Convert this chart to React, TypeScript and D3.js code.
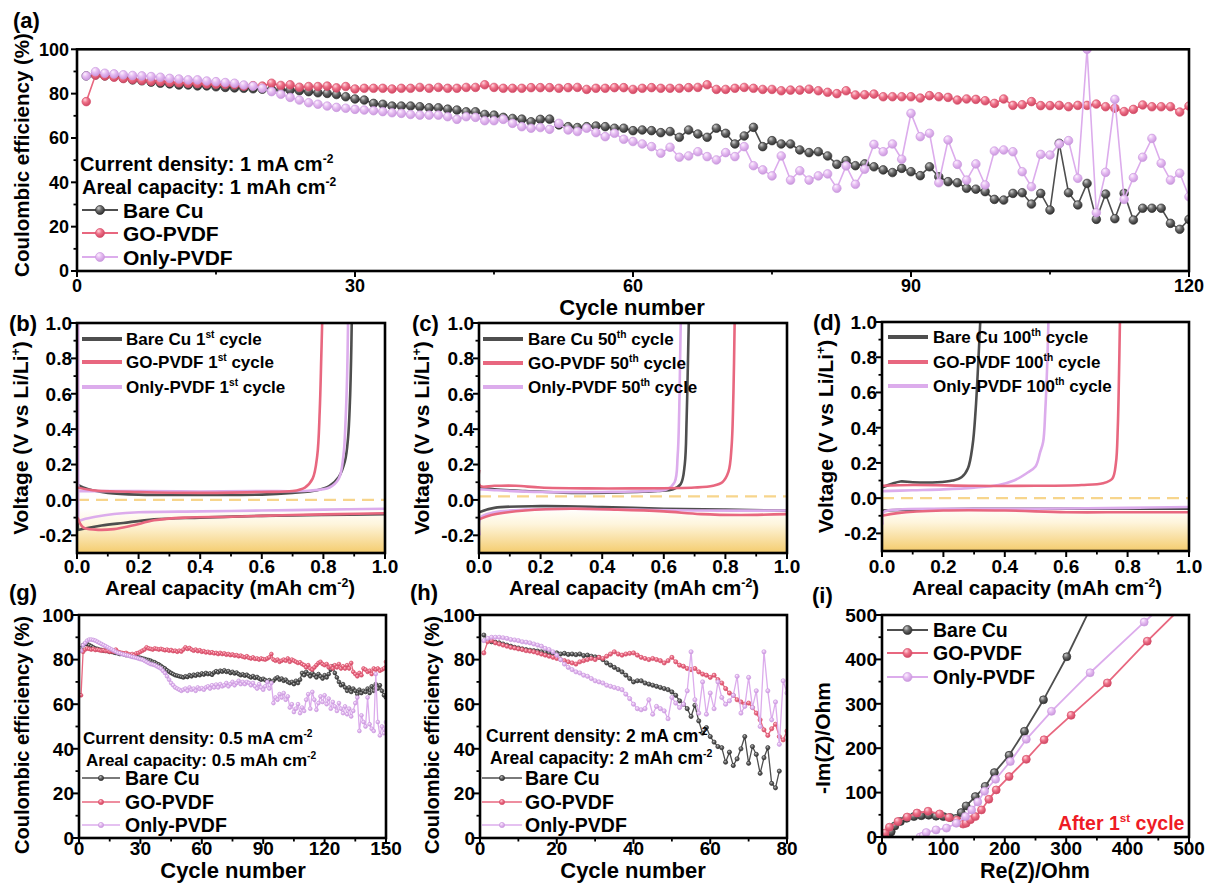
import React from 'react';
import * as d3 from 'd3';

const FONT = "'Liberation Sans', Arial, Helvetica, sans-serif";

// ---------------- shared series meta ----------------
const seriesNames = ['Bare Cu', 'GO-PVDF', 'Only-PVDF'];
const COLORS: any = { bare: '#4e4e4e', go: '#e8677f', only: '#dcacec' };
const MSTROKE: any = { bare: '#333333', go: '#d9506b', only: '#cc9bdf' };

// ---------------- panel (a): 1 mA cm-2, 1 mAh cm-2 ----------------
const ceA_BareCu = [88.0, 88.4, 88.0, 87.7, 87.0, 86.2, 85.8, 85.2, 84.7, 84.4,
  83.9, 83.9, 83.5, 83.5, 83.1, 82.8, 82.6, 82.4, 82.2, 82.0,
  81.8, 81.7, 81.6, 81.3, 80.9, 80.4, 80.1, 79.6, 78.6, 77.6,
  77.1, 75.6, 75.2, 74.4, 74.4, 74.4, 74.1, 73.6, 73.6, 73.0,
  72.6, 71.8, 71.8, 70.6, 70.3, 69.3, 68.8, 68.5, 67.3, 68.4,
  68.5, 65.9, 65.1, 64.7, 65.1, 65.4, 65.1, 64.4, 64.4, 63.3,
  63.6, 63.3, 62.4, 62.9, 60.3, 63.6, 61.8, 60.3, 64.4, 62.1,
  57.3, 60.9, 64.8, 56.1, 58.8, 57.3, 57.3, 54.6, 53.4, 53.8,
  51.9, 48.1, 49.8, 47.5, 48.3, 47.0, 45.6, 44.4, 46.3, 44.8,
  43.0, 47.0, 42.5, 40.3, 39.8, 37.3, 36.9, 35.8, 32.3, 32.0,
  35.0, 35.3, 30.2, 35.0, 27.5, 57.6, 35.3, 29.8, 39.5, 23.3,
  34.7, 23.6, 35.0, 23.0, 28.3, 28.3, 28.3, 21.5, 18.8, 23.3];
const ceA_GoPvdf = [76.4, 88.4, 88.0, 87.4, 86.8, 86.4, 86.0, 85.6, 85.4, 85.1,
  84.9, 84.7, 84.6, 84.4, 84.3, 84.2, 84.0, 83.4, 83.6, 83.4,
  84.7, 83.7, 84.0, 82.9, 83.2, 83.2, 83.4, 82.6, 83.2, 82.1,
  82.4, 82.4, 82.4, 82.1, 82.4, 82.4, 82.8, 82.4, 82.8, 82.4,
  82.4, 82.8, 82.8, 84.0, 82.8, 82.4, 82.4, 82.4, 82.7, 82.7,
  82.7, 82.4, 82.7, 82.8, 81.9, 82.4, 82.4, 82.7, 82.7, 81.9,
  82.4, 82.7, 82.4, 82.4, 82.4, 82.7, 82.8, 84.0, 81.9, 81.9,
  82.4, 82.8, 82.4, 81.9, 81.9, 81.3, 81.6, 81.6, 82.0, 81.3,
  80.6, 80.0, 81.3, 79.4, 79.5, 79.8, 78.6, 78.6, 78.6, 78.6,
  78.0, 79.1, 78.6, 78.3, 77.1, 77.6, 77.4, 76.8, 75.6, 77.6,
  74.7, 75.0, 76.4, 74.6, 74.6, 74.7, 74.1, 74.7, 74.7, 75.3,
  74.1, 73.4, 71.9, 72.9, 74.9, 74.1, 74.1, 74.1, 71.7, 74.4];
const ceA_OnlyPvdf = [88.0, 89.9, 89.2, 88.9, 88.5, 88.2, 88.0, 87.7, 87.4, 86.9,
  86.6, 86.2, 86.2, 85.7, 85.4, 85.0, 84.7, 83.9, 83.4, 82.4,
  80.9, 79.7, 78.3, 77.1, 75.9, 75.2, 74.4, 73.8, 73.4, 72.9,
  72.6, 72.3, 71.9, 71.4, 71.1, 70.6, 70.3, 70.3, 70.3, 69.6,
  68.4, 69.6, 69.3, 67.8, 67.8, 68.4, 66.6, 65.1, 64.4, 64.7,
  63.9, 66.6, 63.6, 62.9, 64.4, 62.4, 60.6, 62.1, 59.4, 58.4,
  57.3, 56.1, 53.1, 55.8, 51.3, 51.9, 53.8, 51.6, 50.1, 53.4,
  51.6, 56.1, 47.5, 45.6, 42.9, 51.9, 41.0, 45.2, 41.0, 42.9,
  43.8, 37.3, 47.4, 39.1, 45.9, 57.1, 53.8, 57.3, 50.4, 71.1,
  60.6, 62.1, 39.8, 59.1, 48.1, 41.0, 48.3, 38.8, 54.1, 54.6,
  53.8, 44.8, 38.0, 52.6, 52.3, 57.3, 58.8, 41.8, 100, 26.3,
  44.5, 77.4, 32.3, 42.1, 51.3, 59.8, 48.6, 41.0, 44.1, 33.5];

// ---------------- panel (g): 0.5 mA cm-2 ----------------
const ceG_BareCu = [85, 86.5, 87, 87, 86.5, 86, 85.5, 85, 84.8, 84.5,
  84.3, 84, 84, 83.8, 83.5, 83.5, 83.2, 83, 82.8, 82.5,
  82.6, 82.3, 82, 82, 81.8, 81.5, 81.5, 81.2, 81, 80.8,
  80.5, 80.3, 80, 79.8, 79.5, 79, 78.8, 78.2, 77.8, 77.2,
  76.5, 76, 75.2, 74.6, 74, 73.5, 73, 72.8, 72.5, 72.3,
  72, 72.5, 72.2, 73, 72.5, 73.2, 72.8, 73.5, 73, 73.8,
  73.3, 74, 73.5, 73.8, 73.2, 74.2, 74.8, 74.3, 75, 74.6,
  75.2, 74.5, 74.8, 74, 74.5, 73.8, 74.2, 73.5, 73, 73.4,
  72.8, 73.2, 72.5, 72, 72.6, 71.8, 72.2, 71.5, 71, 71.4,
  70.8, 70.3, 70.8, 70, 70.5, 71.5, 72, 71, 71.5, 70.5,
  71, 70, 69.5, 70, 69, 70.5, 69.5, 71, 74, 73,
  74.5, 73.5, 72.5, 74, 73, 72, 73.5, 72.5, 71.5, 73,
  72, 73.5, 75.5, 77, 74, 72, 70, 68.5, 69, 67.5,
  66, 67.5, 65.5, 67, 66, 64.5, 66.5, 65, 66, 65.5,
  67, 65, 68, 66, 69, 67, 68.5, 66, 64, 63];
const ceG_GoPvdf = [64, 83.5, 84.5, 85, 84.8, 84.5, 84.8, 84.3, 84.5, 84.2,
  84, 84.2, 83.8, 84, 83.5, 83.8, 83.5, 84.5, 83.5, 83.2,
  83, 82.8, 83, 82.5, 82.2, 82.5, 82, 82.8, 83, 83.5,
  84, 84.5, 85.5, 85, 84.8, 84.5, 85, 84.8, 84.5, 84.8,
  84.5, 84.2, 84.5, 84, 84.3, 83.8, 84, 83.5, 84, 83.6,
  84.5, 85.5, 84.8, 85.2, 84.5, 84, 84.5, 83.8, 84.2, 83.5,
  83.8, 83.2, 83.5, 83, 83.3, 82.8, 83, 82.5, 83, 82.5,
  82.8, 82.2, 82.5, 82, 82.3, 81.8, 82, 81.5, 81.8, 81.3,
  81, 81.5, 80.8, 80.5, 81, 80.3, 80.5, 80, 80.5, 80.2,
  80, 80.5, 81, 82.5, 80, 79.5, 80, 79, 79.5, 80,
  79.5, 80.5, 79, 80, 79.5, 79, 78.5, 78.8, 78, 77.5,
  76.5, 77.5, 76, 75.5, 76.5, 77.5, 78.5, 79, 78, 77.5,
  78, 76.5, 77, 76, 77.5, 76.5, 78, 76, 77, 76,
  77.5, 76, 78.5, 74.5, 73.5, 72.5, 74, 73, 76, 75.5,
  74.5, 75, 73.5, 76, 75.5, 76, 75, 75.5, 76, 79];
const ceG_OnlyPvdf = [84, 86.5, 87.5, 88.5, 89, 89, 88.8, 88.5, 88, 87.5,
  87, 86.5, 86, 85.5, 85, 84.5, 84, 83.5, 83, 82.8,
  82.5, 82.2, 82, 81.8, 81.5, 81.2, 81, 80.8, 80.5, 80.2,
  80, 79.5, 79, 78.5, 78, 77.8, 77.5, 77, 76.5, 76,
  75, 74, 72.5, 71, 69.5, 68.5, 67.5, 67, 66.5, 66,
  66.5, 67, 66, 67.5, 66.5, 67, 66, 67.5, 66.8, 67.2,
  66.5, 67.5, 68, 67, 68.5, 67.5, 68.8, 67.5, 69, 68,
  68.5, 69.5, 68, 69, 70, 68.5, 69.5, 70.5, 69, 70,
  69, 70, 69.5, 68.5, 69.5, 68, 67, 69, 67.5, 66.5,
  68, 70, 67, 69.5, 60.5, 63, 62, 64.5, 63, 65,
  62, 63.5, 58.5, 60, 56.5, 58, 60, 56, 58.5, 57,
  62, 64.5, 58, 65.5, 62, 57.5, 60.5, 63.5, 61, 64,
  60, 62.5, 58, 61, 59, 57, 60.5, 58, 56, 59,
  55.5, 58, 54.5, 57, 60.5, 63, 48, 55, 52, 50,
  63, 51, 49, 48, 73.5, 52, 46, 50, 47, 52];

// ---------------- panel (h): 2 mA cm-2 ----------------
const ceH_BareCu = [91, 88.5, 88, 87.8, 87.5, 87, 86.5, 86, 85.5, 85.2,
  84.8, 84.5, 84.2, 84, 83.8, 83.5, 83.2, 83, 82.8, 83,
  82.5, 82.8, 82.3, 82.5, 82.2, 82.5, 81.8, 82, 81.5, 81.2,
  81, 80, 78.5, 77.5, 76.5, 75.5, 74.5, 73, 71.5, 70,
  70.5, 70.5, 69.5, 69, 68.5, 68, 67.5, 67, 66.5, 65.5,
  64, 61.5, 60, 58, 54.5, 59.5, 52.5, 47, 49.5, 45.5,
  43, 41, 40.5, 34, 38.5, 32.5, 35.5, 40, 45.5, 33.5,
  41, 37.5, 29, 36, 40.5, 24.5, 22.5, 30];
const ceH_GoPvdf = [83, 88, 88.5, 87.5, 87, 86.5, 86, 85.5, 85.2, 84.8,
  84.5, 84, 83.8, 83.5, 83, 82.5, 82, 81.5, 81, 80.5,
  80, 79.5, 79, 78.5, 78, 79, 79.5, 80, 80.5, 80,
  81, 80.5, 81.5, 82.5, 83.5, 82.5, 82, 82.5, 82.8, 83,
  82, 81, 80.5, 80, 80.5, 80, 79.5, 78.5, 79.5, 81,
  79, 77.5, 77, 76, 75.5, 76, 74.5, 73.5, 73, 72,
  73, 71, 69.5, 67, 65, 64, 62, 61, 60, 60.5,
  58.5, 56, 53, 48.5, 46, 49, 51, 45.5, 44, 48];
const ceH_OnlyPvdf = [88.5, 89.5, 90, 90, 90, 89.8, 89.5, 89, 88.8, 88.5,
  88, 87.8, 87.5, 87, 86.5, 86, 85, 84.5, 83.5, 82,
  80, 78, 76.5, 75.5, 74.5, 74, 73, 72.5, 71.5, 70.5,
  70, 69.5, 68.5, 68, 67.5, 67, 66.5, 64.5, 62.5, 60,
  58, 57.5, 58, 62, 55.5, 59, 58, 57, 53.5, 63,
  60.5, 58.5, 60, 66, 83.5, 62, 56, 70, 55.5, 65,
  58, 70, 63, 60, 61.5, 64, 72.5, 56, 59, 72,
  58.5, 66, 50, 83.5, 66, 53, 61, 42, 70.5, 65];

// ---------------- panels (b)(c)(d): voltage profiles [capacity, voltage] ----------------
const b_bare_initial = [[0.002, 0.1], [0.002, -0.05], [0.003, -0.17]];
const b_bare_charge = [[0.0, 0.09], [0.02, 0.07], [0.05, 0.055], [0.1, 0.04], [0.2, 0.03], [0.4, 0.028], [0.6, 0.03], [0.7, 0.04], [0.78, 0.055], [0.82, 0.08], [0.85, 0.13], [0.87, 0.22], [0.88, 0.35], [0.886, 0.55], [0.89, 0.8], [0.892, 1.0]];
const b_bare_discharge = [[0.003, -0.17], [0.03, -0.16], [0.08, -0.145], [0.15, -0.13], [0.25, -0.11], [0.4, -0.1], [0.6, -0.09], [0.8, -0.085], [1.0, -0.08]];
const b_go_charge = [[0.0, 0.07], [0.05, 0.055], [0.2, 0.045], [0.4, 0.04], [0.6, 0.045], [0.7, 0.05], [0.74, 0.07], [0.765, 0.12], [0.78, 0.25], [0.788, 0.5], [0.793, 0.8], [0.796, 1.0]];
const b_go_discharge = [[0.002, -0.1], [0.02, -0.155], [0.06, -0.168], [0.12, -0.165], [0.18, -0.145], [0.25, -0.115], [0.35, -0.1], [0.5, -0.095], [0.7, -0.085], [0.85, -0.08], [1.0, -0.075]];
const b_only_initial = [[0.004, 1.0], [0.004, 0.4], [0.004, -0.12]];
const b_only_charge = [[0.0, 0.05], [0.05, 0.05], [0.2, 0.05], [0.4, 0.048], [0.6, 0.05], [0.75, 0.052], [0.82, 0.07], [0.85, 0.12], [0.865, 0.25], [0.872, 0.45], [0.877, 0.7], [0.88, 1.0]];
const b_only_discharge = [[0.004, -0.12], [0.02, -0.11], [0.06, -0.095], [0.12, -0.08], [0.2, -0.07], [0.4, -0.065], [0.6, -0.06], [0.8, -0.055], [1.0, -0.05]];

const c_bare_charge = [[0.0, 0.07], [0.05, 0.06], [0.15, 0.05], [0.3, 0.04], [0.45, 0.042], [0.58, 0.05], [0.63, 0.06], [0.655, 0.09], [0.668, 0.2], [0.674, 0.45], [0.678, 0.75], [0.681, 1.0]];
const c_bare_discharge = [[0.0, -0.07], [0.05, -0.045], [0.2, -0.035], [0.4, -0.04], [0.6, -0.05], [0.8, -0.055], [1.0, -0.06]];
const c_go_charge = [[0.001, 0.17], [0.003, 0.08], [0.05, 0.08], [0.12, 0.08], [0.2, 0.07], [0.35, 0.065], [0.5, 0.065], [0.7, 0.07], [0.76, 0.08], [0.79, 0.1], [0.81, 0.16], [0.82, 0.3], [0.826, 0.6], [0.83, 1.0]];
const c_go_discharge = [[0.0, -0.11], [0.04, -0.085], [0.15, -0.06], [0.3, -0.05], [0.45, -0.055], [0.6, -0.065], [0.72, -0.08], [0.85, -0.085], [1.0, -0.08]];
const c_only_charge = [[0.0, 0.06], [0.05, 0.055], [0.2, 0.045], [0.4, 0.045], [0.55, 0.05], [0.61, 0.06], [0.635, 0.1], [0.645, 0.25], [0.65, 0.5], [0.653, 0.8], [0.655, 1.0]];
const c_only_discharge = [[0.002, -0.2], [0.005, -0.1], [0.05, -0.07], [0.15, -0.055], [0.3, -0.05], [0.5, -0.055], [0.7, -0.06], [1.0, -0.06]];

const d_bare_charge = [[0.0, 0.06], [0.03, 0.08], [0.06, 0.095], [0.1, 0.09], [0.18, 0.09], [0.23, 0.1], [0.26, 0.12], [0.28, 0.17], [0.295, 0.3], [0.305, 0.5], [0.313, 0.75], [0.32, 1.0]];
const d_bare_discharge = [[0.0, -0.07], [0.1, -0.065], [0.3, -0.06], [0.6, -0.06], [1.0, -0.06]];
const d_go_charge = [[0.0, 0.07], [0.1, 0.075], [0.3, 0.07], [0.5, 0.07], [0.65, 0.075], [0.72, 0.085], [0.75, 0.11], [0.762, 0.2], [0.768, 0.4], [0.772, 0.7], [0.775, 1.0]];
const d_go_discharge = [[0.0, -0.1], [0.05, -0.085], [0.2, -0.07], [0.4, -0.07], [0.6, -0.08], [0.8, -0.08], [1.0, -0.08]];
const d_only_charge = [[0.0, 0.04], [0.1, 0.045], [0.2, 0.05], [0.3, 0.06], [0.38, 0.075], [0.43, 0.1], [0.47, 0.14], [0.5, 0.18], [0.515, 0.26], [0.525, 0.32], [0.532, 0.5], [0.538, 0.75], [0.542, 1.0]];
const d_only_discharge = [[0.002, -0.15], [0.005, -0.08], [0.05, -0.065], [0.2, -0.06], [0.5, -0.06], [0.8, -0.055], [1.0, -0.05]];

// ---------------- panel (i): EIS [Re, -Im] ----------------
const eis_BareCu = [[12, 0], [15, 12], [21, 25], [30, 35], [40, 42], [52, 46], [64, 48], [76, 49], [88, 47], [100, 46], [111, 44], [121, 42], [129, 55], [137, 70], [152, 91], [168, 114], [183, 145], [207, 184], [232, 238], [263, 309], [301, 406], [334, 500]];
const eis_GoPvdf = [[5, 0], [5, 9], [12, 22], [26, 35], [41, 45], [57, 54], [75, 58], [94, 52], [109, 44], [122, 38], [132, 29], [137, 31], [144, 39], [152, 46], [162, 61], [174, 85], [186, 106], [207, 136], [235, 175], [264, 219], [308, 274], [367, 347], [432, 441], [475, 500]];
const eis_OnlyPvdf = [[62, 0], [67, 2], [72, 10], [88, 16], [105, 20], [121, 31], [136, 46], [146, 61], [156, 79], [167, 103], [185, 130], [209, 170], [235, 220], [276, 283], [339, 370], [427, 484], [440, 500]];

// ---------------- tick labels ----------------
const ticksCE = [0, 20, 40, 60, 80, 100];
const ticksCEMinor = [10, 30, 50, 70, 90];
const ticksA_x = [0, 30, 60, 90, 120];
const ticksA_xMinor = [15, 45, 75, 105];
const ticksG_x = [0, 30, 60, 90, 120, 150];
const ticksG_xMinor = [15, 45, 75, 105, 135];
const ticksH_x = [0, 20, 40, 60, 80];
const ticksH_xMinor = [10, 30, 50, 70];
const ticksV_x = [0, 0.2, 0.4, 0.6, 0.8, 1.0];
const ticksV_xMinor = [0.1, 0.3, 0.5, 0.7, 0.9];
const ticksV_y = [-0.2, 0, 0.2, 0.4, 0.6, 0.8, 1.0];
const ticksV_yMinor = [-0.1, 0.1, 0.3, 0.5, 0.7, 0.9];
const ticksI = [0, 100, 200, 300, 400, 500];
const ticksIMinor = [50, 150, 250, 350, 450];

type Part = string | { sup: string };

function Rich({ x, y, parts, fs, anchor = 'start', fill = '#000', transform }: any) {
  const out: any[] = [];
  let shifted = false;
  parts.forEach((p: Part, i: number) => {
    if (typeof p === 'string') {
      out.push(<tspan key={i} dy={shifted ? fs * 0.4 : 0}>{p}</tspan>);
      shifted = false;
    } else {
      out.push(<tspan key={i} dy={-fs * 0.4} fontSize={fs * 0.6}>{p.sup}</tspan>);
      shifted = true;
    }
  });
  return (
    <text x={x} y={y} fontSize={fs} fontWeight="bold" fontFamily={FONT} textAnchor={anchor} fill={fill} transform={transform}>
      {out}
    </text>
  );
}

function Axes({ xs, ys, xMajor, xMinor, yMajor, yMinor, fmtX, fmtY, fs, xLabY, yLabGap }: any) {
  const [l, r] = xs.range();
  const [b, t] = ys.range();
  return (
    <g fontFamily={FONT} fontWeight="bold">
      {xMinor.map((v: number) => <line key={'xn' + v} x1={xs(v)} x2={xs(v)} y1={b} y2={b + 3.5} stroke="#000" strokeWidth={1.8} />)}
      {xMajor.map((v: number) => <line key={'xj' + v} x1={xs(v)} x2={xs(v)} y1={b} y2={b + 6} stroke="#000" strokeWidth={2} />)}
      {yMinor.map((v: number) => <line key={'yn' + v} x1={l - 3.5} x2={l} y1={ys(v)} y2={ys(v)} stroke="#000" strokeWidth={1.8} />)}
      {yMajor.map((v: number) => <line key={'yj' + v} x1={l - 6} x2={l} y1={ys(v)} y2={ys(v)} stroke="#000" strokeWidth={2} />)}
      {xMajor.map((v: number) => (
        <text key={'xl' + v} x={xs(v)} y={xLabY} fontSize={fs} textAnchor="middle">{fmtX(v)}</text>
      ))}
      {yMajor.map((v: number) => (
        <text key={'yl' + v} x={l - yLabGap} y={ys(v) + fs * 0.36} fontSize={fs} textAnchor="end">{fmtY(v)}</text>
      ))}
      <rect x={l} y={t} width={r - l} height={b - t} fill="none" stroke="#000" strokeWidth={2.6} />
    </g>
  );
}

function Ball({ cx, cy, r, k }: any) {
  return <circle cx={cx} cy={cy} r={r} fill={`url(#grad-${k})`} stroke={MSTROKE[k]} strokeWidth={0.7} />;
}

function CEPanel(p: any) {
  const xs = d3.scaleLinear().domain([0, p.xMax]).range([p.l, p.r]);
  const ys = d3.scaleLinear().domain([0, 100]).range([p.b, p.t]);
  const line = d3.line<number>().x((_, i) => xs(i + 1)).y((d) => ys(d));
  return (
    <g>
      <clipPath id={p.id}><rect x={p.l} y={p.t} width={p.r - p.l} height={p.b - p.t} /></clipPath>
      <g clipPath={`url(#${p.id})`}>
        {p.series.map((s: any) => (
          <g key={s.k}>
            <path d={line(s.v) as string} fill="none" stroke={COLORS[s.k]} strokeWidth={p.lw} />
            {s.v.map((v: number, i: number) => <Ball key={i} cx={xs(i + 1)} cy={ys(v)} r={p.mr} k={s.k} />)}
          </g>
        ))}
      </g>
      <Axes xs={xs} ys={ys} xMajor={p.xMajor} xMinor={p.xMinor} yMajor={ticksCE} yMinor={ticksCEMinor}
        fmtX={(v: number) => String(v)} fmtY={(v: number) => String(v)} fs={p.tickFs} xLabY={p.xLabY} yLabGap={p.yLabGap} />
      <Rich x={p.ann[0].x} y={p.ann[0].y} fs={p.annFs} parts={p.ann[0].parts} />
      <Rich x={p.ann[1].x} y={p.ann[1].y} fs={p.annFs} parts={p.ann[1].parts} />
      {['bare', 'go', 'only'].map((k, i) => {
        const cy = p.leg.rows[i];
        return (
          <g key={k}>
            <line x1={p.leg.x1} x2={p.leg.x2} y1={cy} y2={cy} stroke={COLORS[k]} strokeWidth={p.lw + 0.4} />
            <Ball cx={(p.leg.x1 + p.leg.x2) / 2} cy={cy} r={p.legR} k={k} />
            <text x={p.leg.tx} y={cy + p.legFs * 0.36} fontSize={p.legFs} fontWeight="bold" fontFamily={FONT}>{seriesNames[i]}</text>
          </g>
        );
      })}
      <text x={p.xTitle.x} y={p.xTitle.y} fontSize={p.xTitle.fs} fontWeight="bold" fontFamily={FONT} textAnchor="middle">Cycle number</text>
      <text transform={`translate(${p.yTitle.x},${p.yTitle.y}) rotate(-90)`} fontSize={p.yTitle.fs} fontWeight="bold" fontFamily={FONT} textAnchor="middle">Coulombic efficiency (%)</text>
      <text x={p.letter.x} y={p.letter.y} fontSize={22} fontWeight="bold" fontFamily={FONT}>{p.letter.t}</text>
    </g>
  );
}

function VoltPanel(p: any) {
  const xs = d3.scaleLinear().domain([0, 1]).range([p.l, p.r]);
  const ys = d3.scaleLinear().domain([-0.3, 1.0]).range([p.b, p.t]);
  const line = d3.line<number[]>().x((d) => xs(d[0])).y((d) => ys(d[1])).curve(d3.curveCatmullRom.alpha(0.5));
  const fillTop = ys(-0.05);
  return (
    <g>
      <clipPath id={p.id}><rect x={p.l} y={p.t} width={p.r - p.l} height={p.b - p.t} /></clipPath>
      <g clipPath={`url(#${p.id})`}>
        <rect x={p.l} y={fillTop} width={p.r - p.l} height={p.b - fillTop} fill="url(#yellowFade)" />
        <line x1={p.l} x2={p.r} y1={ys(p.dashY)} y2={ys(p.dashY)} stroke="#f7d58c" strokeWidth={2.4} strokeDasharray="12 7" />
        {p.curves.map((c: any, i: number) => (
          <path key={i} d={line(c.pts) as string} fill="none" stroke={COLORS[c.k]} strokeWidth={2.6} strokeLinejoin="round" />
        ))}
      </g>
      <Axes xs={xs} ys={ys} xMajor={ticksV_x} xMinor={ticksV_xMinor} yMajor={ticksV_y} yMinor={ticksV_yMinor}
        fmtX={(v: number) => v.toFixed(1)} fmtY={(v: number) => v.toFixed(1)} fs={19} xLabY={573} yLabGap={5} />
      {['bare', 'go', 'only'].map((k, i) => (
        <g key={k}>
          <line x1={p.leg.x1} x2={p.leg.x2} y1={p.leg.rows[i]} y2={p.leg.rows[i]} stroke={COLORS[k]} strokeWidth={4} />
          <Rich x={p.leg.tx} y={p.leg.rows[i] + 6} fs={17} parts={[seriesNames[i] + ' ' + p.cyc, { sup: p.sup }, ' cycle']} />
        </g>
      ))}
      <Rich x={p.xTitleX} y={595} fs={20.5} anchor="middle" parts={['Areal capacity (mAh cm', { sup: '-2' }, ')']} />
      <Rich transform={`translate(${p.yTitleX},${(p.t + p.b) / 2}) rotate(-90)`} x={0} y={0} fs={21} anchor="middle" parts={['Voltage (V vs Li/Li', { sup: '+' }, ')']} />
      <text x={p.letter.x} y={p.letter.y} fontSize={22} fontWeight="bold" fontFamily={FONT}>{p.letter.t}</text>
    </g>
  );
}

function EISPanel() {
  const l = 882, r = 1189, t = 615, b = 837;
  const xs = d3.scaleLinear().domain([0, 500]).range([l, r]);
  const ys = d3.scaleLinear().domain([0, 500]).range([b, t]);
  const line = d3.line<number[]>().x((d) => xs(d[0])).y((d) => ys(d[1]));
  const series = [{ k: 'bare', v: eis_BareCu }, { k: 'go', v: eis_GoPvdf }, { k: 'only', v: eis_OnlyPvdf }];
  const rows = [630, 653, 677];
  return (
    <g>
      <clipPath id="clipI"><rect x={l} y={t} width={r - l} height={b - t} /></clipPath>
      <g clipPath="url(#clipI)">
        {series.map((s) => (
          <g key={s.k}>
            <path d={line(s.v) as string} fill="none" stroke={COLORS[s.k]} strokeWidth={1.8} />
            {s.v.filter((d) => d[1] < 495).map((d, i) => <Ball key={i} cx={xs(d[0])} cy={ys(d[1])} r={4} k={s.k} />)}
          </g>
        ))}
      </g>
      <Axes xs={xs} ys={ys} xMajor={ticksI} xMinor={ticksIMinor} yMajor={ticksI} yMinor={ticksIMinor}
        fmtX={(v: number) => String(v)} fmtY={(v: number) => String(v)} fs={19} xLabY={855} yLabGap={5} />
      {['bare', 'go', 'only'].map((k, i) => (
        <g key={k}>
          <line x1={887} x2={928} y1={rows[i]} y2={rows[i]} stroke={COLORS[k]} strokeWidth={2.2} />
          <Ball cx={907.5} cy={rows[i]} r={4.5} k={k} />
          <text x={933} y={rows[i] + 7} fontSize={19.5} fontWeight="bold" fontFamily={FONT}>{seriesNames[i]}</text>
        </g>
      ))}
      <Rich x={1058} y={830} fs={19.5} fill="#ee1c25" parts={['After 1', { sup: 'st' }, ' cycle']} />
      <text x={1035} y={878} fontSize={21.5} fontWeight="bold" fontFamily={FONT} textAnchor="middle">Re(Z)/Ohm</text>
      <text transform={`translate(830,738) rotate(-90)`} fontSize={21} fontWeight="bold" fontFamily={FONT} textAnchor="middle">-Im(Z)/Ohm</text>
      <text x={812} y={603} fontSize={22} fontWeight="bold" fontFamily={FONT}>(i)</text>
    </g>
  );
}

export default function App() {
  const grad = (id: string, c0: string, c1: string, c2: string) => (
    <radialGradient id={id} cx="38%" cy="32%" r="70%" fx="35%" fy="28%">
      <stop offset="0%" stopColor={c0} />
      <stop offset="45%" stopColor={c1} />
      <stop offset="100%" stopColor={c2} />
    </radialGradient>
  );
  return (
    <svg width={1206} height={885} viewBox="0 0 1206 885" style={{ position: 'absolute', left: 0, top: 0, background: '#fff' }} fontFamily={FONT}>
      <defs>
        {grad('grad-bare', '#d0d0d0', '#6a6a6a', '#2c2c2c')}
        {grad('grad-go', '#ffd6de', '#ef7189', '#cc4460')}
        {grad('grad-only', '#fdf2ff', '#e6bdf2', '#c996dc')}
        <linearGradient id="yellowFade" x1="0" y1="0" x2="0" y2="1">
          <stop offset="0%" stopColor="#ffffff" />
          <stop offset="35%" stopColor="#fef5dc" />
          <stop offset="100%" stopColor="#f4cc6e" />
        </linearGradient>
      </defs>
      <rect x={0} y={0} width={1206} height={885} fill="#fff" />

      <CEPanel id="clipA" l={77} r={1189} t={49.3} b={271} xMax={120} xMajor={ticksA_x} xMinor={ticksA_xMinor}
        series={[{ k: 'bare', v: ceA_BareCu }, { k: 'go', v: ceA_GoPvdf }, { k: 'only', v: ceA_OnlyPvdf }]}
        mr={4.3} lw={1.6} tickFs={18} xLabY={292} yLabGap={8}
        annFs={20} ann={[{ x: 80, y: 171, parts: ['Current density: 1 mA cm', { sup: '-2' }] }, { x: 82, y: 194, parts: ['Areal capacity: 1 mAh cm', { sup: '-2' }] }]}
        leg={{ x1: 82, x2: 118, tx: 123, rows: [210, 233, 257] }} legR={4.5} legFs={21}
        xTitle={{ x: 632, y: 315, fs: 22 }} yTitle={{ x: 29, y: 155, fs: 20.5 }} letter={{ x: 13, y: 28, t: '(a)' }} />

      <VoltPanel id="clipB" l={77} r={385} t={323} b={553} dashY={0}
        curves={[{ k: 'bare', pts: b_bare_initial }, { k: 'bare', pts: b_bare_charge }, { k: 'bare', pts: b_bare_discharge },
        { k: 'only', pts: b_only_initial }, { k: 'only', pts: b_only_charge }, { k: 'only', pts: b_only_discharge },
        { k: 'go', pts: b_go_charge }, { k: 'go', pts: b_go_discharge }]}
        cyc="1" sup="st" leg={{ x1: 82, x2: 122, tx: 126, rows: [339, 362, 387] }}
        xTitleX={230} yTitleX={28} letter={{ x: 9, y: 331, t: '(b)' }} />

      <VoltPanel id="clipC" l={479} r={787} t={323} b={553} dashY={0.02}
        curves={[{ k: 'bare', pts: c_bare_charge }, { k: 'bare', pts: c_bare_discharge },
        { k: 'only', pts: c_only_charge }, { k: 'only', pts: c_only_discharge },
        { k: 'go', pts: c_go_charge }, { k: 'go', pts: c_go_discharge }]}
        cyc="50" sup="th" leg={{ x1: 483, x2: 523, tx: 528, rows: [339, 363, 387] }}
        xTitleX={634} yTitleX={429} letter={{ x: 412, y: 331, t: '(c)' }} />

      <VoltPanel id="clipD" l={882} r={1189} t={322} b={551} dashY={0.0}
        curves={[{ k: 'bare', pts: d_bare_charge }, { k: 'bare', pts: d_bare_discharge },
        { k: 'only', pts: d_only_charge }, { k: 'only', pts: d_only_discharge },
        { k: 'go', pts: d_go_charge }, { k: 'go', pts: d_go_discharge }]}
        cyc="100" sup="th" leg={{ x1: 888, x2: 928, tx: 933, rows: [337, 362, 386] }}
        xTitleX={1037} yTitleX={833} letter={{ x: 813, y: 330, t: '(d)' }} />

      <CEPanel id="clipG" l={79} r={386} t={615} b={838} xMax={150} xMajor={ticksG_x} xMinor={ticksG_xMinor}
        series={[{ k: 'bare', v: ceG_BareCu }, { k: 'go', v: ceG_GoPvdf }, { k: 'only', v: ceG_OnlyPvdf }]}
        mr={1.9} lw={1.3} tickFs={19} xLabY={855} yLabGap={5}
        annFs={17} ann={[{ x: 83, y: 744, parts: ['Current density: 0.5 mA cm', { sup: '-2' }] }, { x: 86, y: 766, parts: ['Areal capacity: 0.5 mAh cm', { sup: '-2' }] }]}
        leg={{ x1: 82, x2: 120, tx: 125, rows: [778, 802, 825] }} legR={2.6} legFs={19.5}
        xTitle={{ x: 233, y: 878, fs: 22 }} yTitle={{ x: 29, y: 735, fs: 20 }} letter={{ x: 9, y: 600, t: '(g)' }} />

      <CEPanel id="clipH" l={480} r={787} t={615} b={838} xMax={80} xMajor={ticksH_x} xMinor={ticksH_xMinor}
        series={[{ k: 'bare', v: ceH_BareCu }, { k: 'go', v: ceH_GoPvdf }, { k: 'only', v: ceH_OnlyPvdf }]}
        mr={2.1} lw={1.3} tickFs={19} xLabY={855} yLabGap={5}
        annFs={17.5} ann={[{ x: 486, y: 742, parts: ['Current density: 2 mA cm', { sup: '-2' }] }, { x: 490, y: 764, parts: ['Areal capacity: 2 mAh cm', { sup: '-2' }] }]}
        leg={{ x1: 482, x2: 522, tx: 525, rows: [778, 802, 825] }} legR={2.6} legFs={19.5}
        xTitle={{ x: 633, y: 878, fs: 22 }} yTitle={{ x: 439, y: 735, fs: 20 }} letter={{ x: 410, y: 600, t: '(h)' }} />

      <EISPanel />
    </svg>
  );
}
